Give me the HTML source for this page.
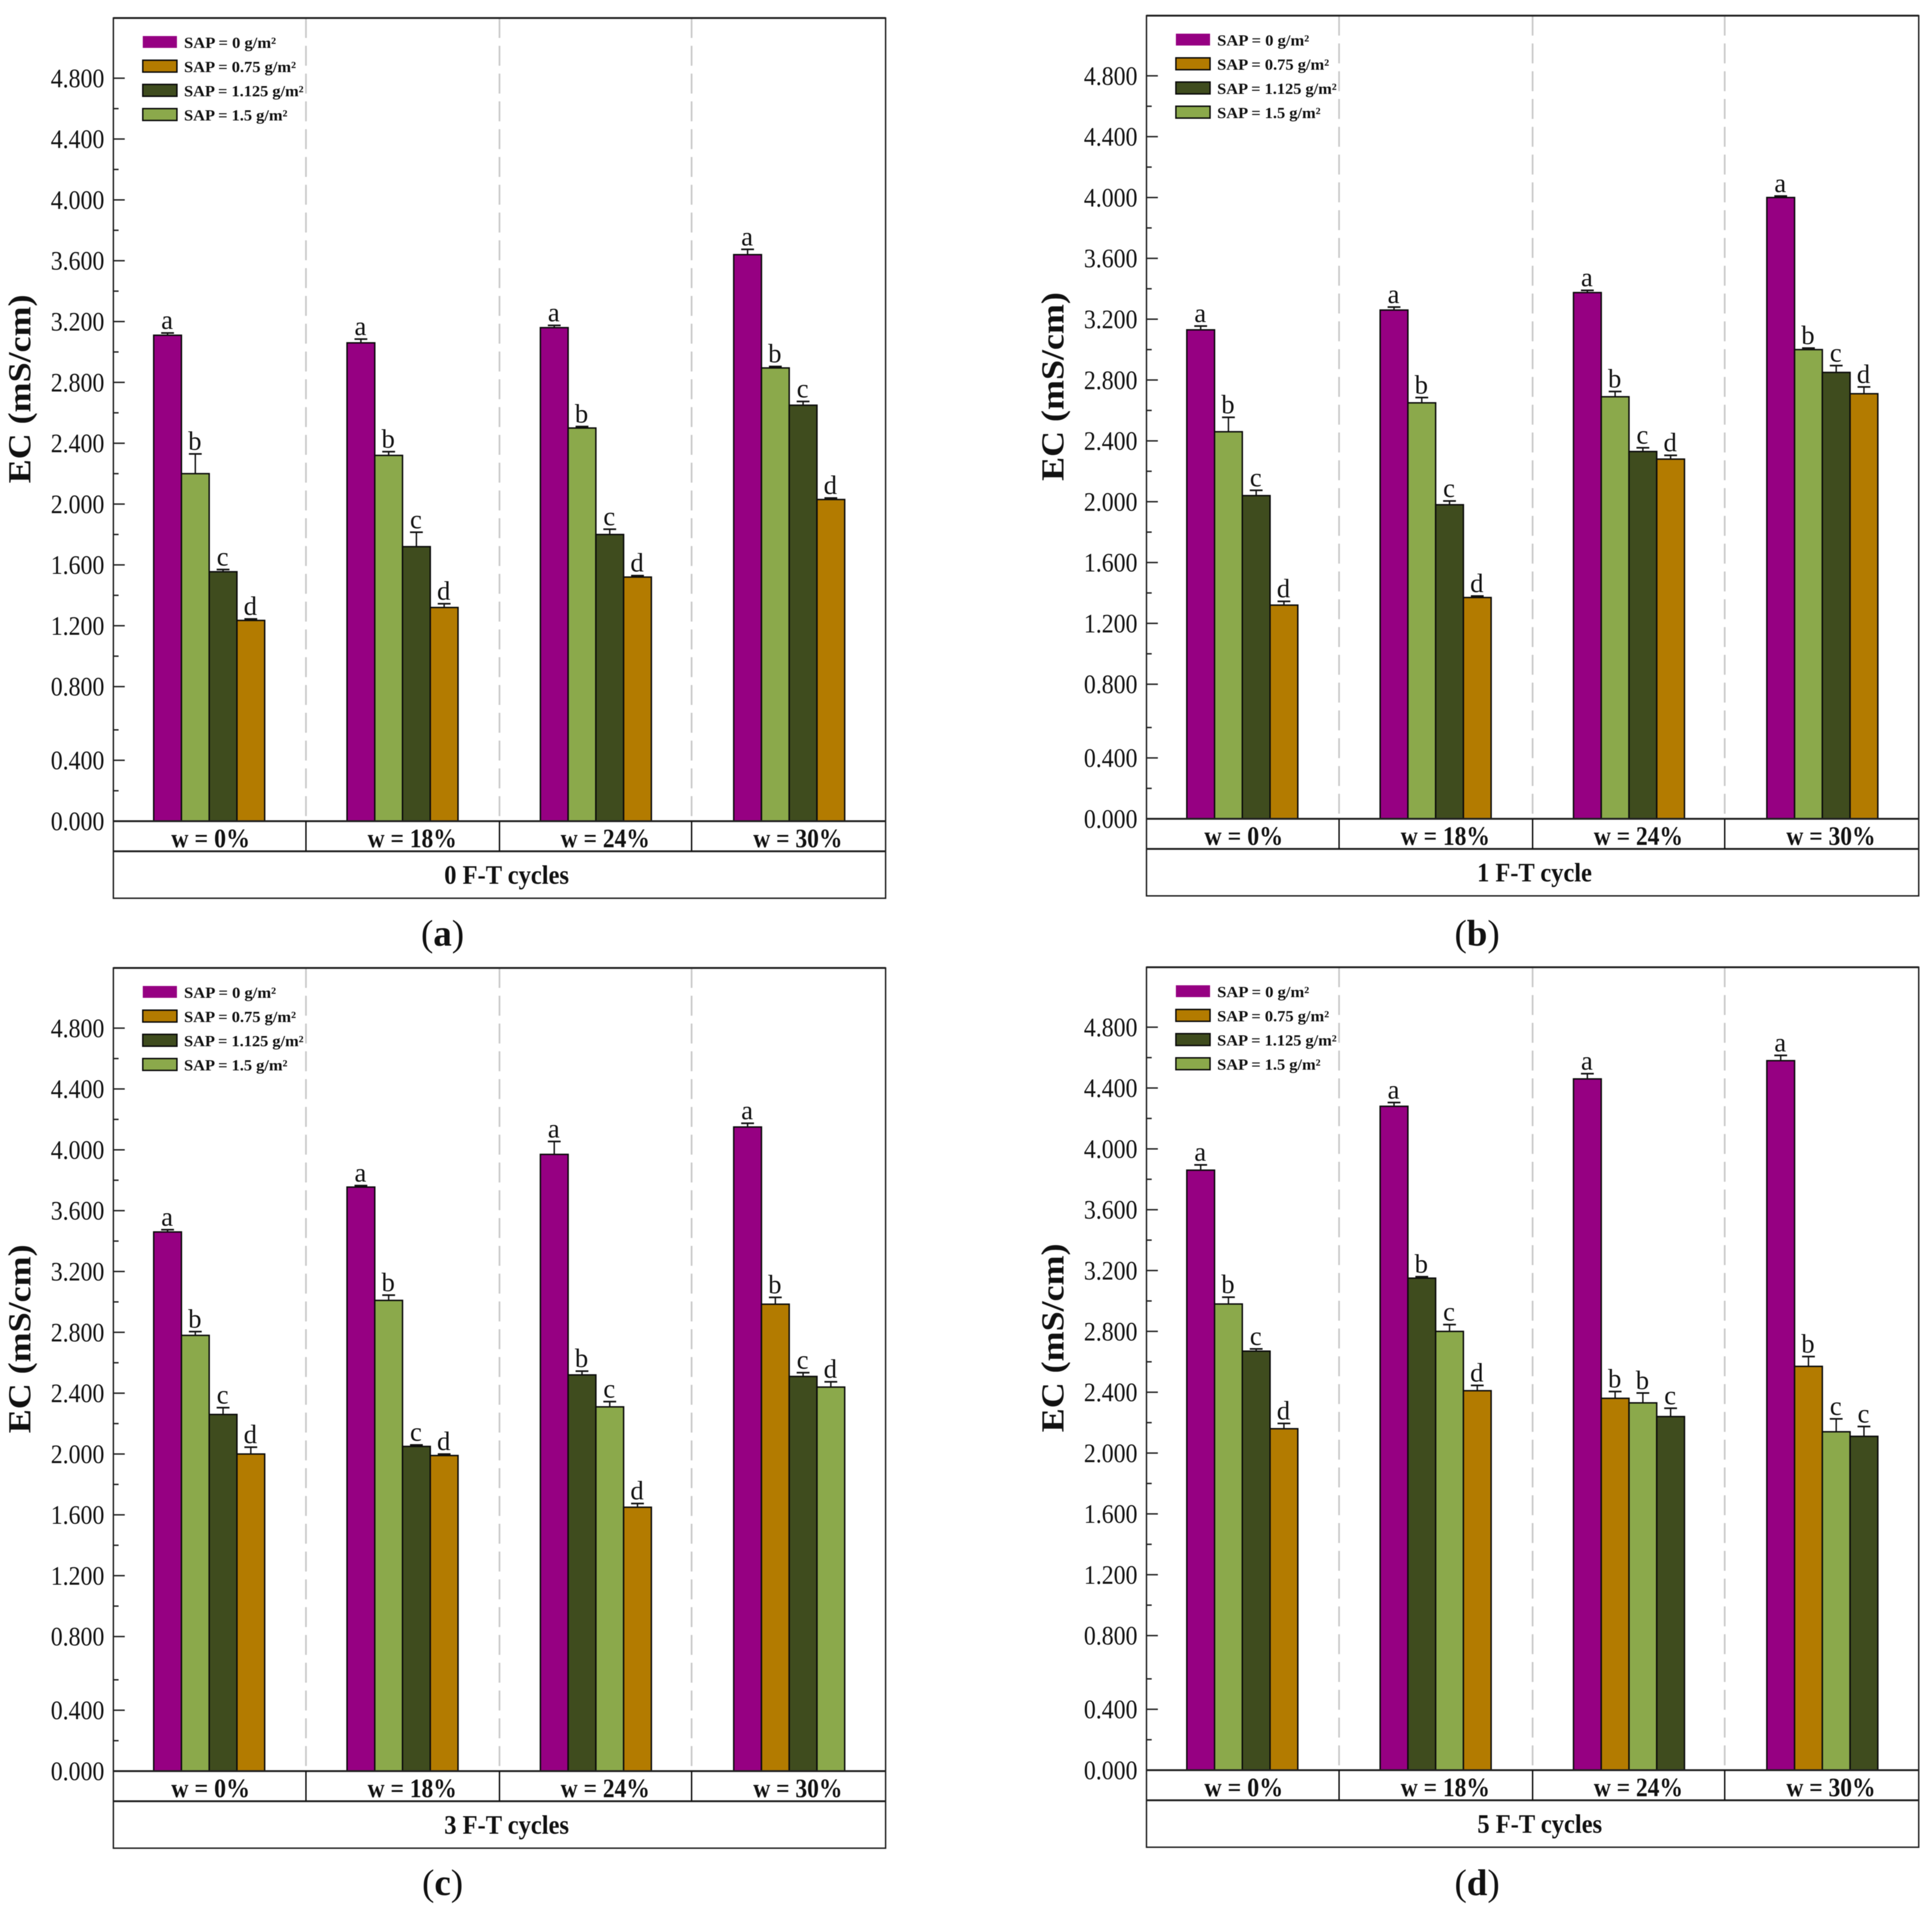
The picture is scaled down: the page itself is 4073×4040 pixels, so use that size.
<!DOCTYPE html>
<html lang="en">
<head>
<meta charset="utf-8">
<title>EC under F-T cycles</title>
<style>
html,body{margin:0;padding:0;background:#fff;}
svg{display:block;filter:blur(0.7px);}
text{font-family:"Liberation Serif","DejaVu Serif",serif;fill:#111;}
</style>
</head>
<body>
<svg id="chart" xmlns="http://www.w3.org/2000/svg" width="4073" height="4040" viewBox="0 0 4073 4040"></svg>
<script>
// ---- shared data ----
const categories = ['w = 0%', 'w = 18%', 'w = 24%', 'w = 30%'];
const seriesNames = ['SAP = 0 g/m²', 'SAP = 0.75 g/m²', 'SAP = 1.125 g/m²', 'SAP = 1.5 g/m²'];
const seriesColors = ['#960082', '#b37b00', '#3f4c1e', '#8ba94b'];
const majorTickLabels = ['0.000', '0.400', '0.800', '1.200', '1.600', '2.000', '2.400', '2.800', '3.200', '3.600', '4.000', '4.400', '4.800'];
const minorTickValues = [0.2, 0.6, 1.0, 1.4, 1.8, 2.2, 2.6, 3.0, 3.4, 3.8, 4.2, 4.6];

// Each row is one w category; bars run left to right in the picture.
// Series index: 0 = 0, 1 = 0.75, 2 = 1.125, 3 = 1.5 g/m²
const valuesA = [[3.11, 2.20, 1.555, 1.235], [3.06, 2.32, 1.72, 1.32], [3.16, 2.50, 1.80, 1.52], [3.64, 2.895, 2.65, 2.03]];
const errorsA = [[0.01, 0.125, 0.01, 0.005], [0.02, 0.02, 0.09, 0.02], [0.01, 0.005, 0.03, 0.005], [0.03, 0.005, 0.02, 0.005]];
const seriesA = [[0, 3, 2, 1], [0, 3, 2, 1], [0, 3, 2, 1], [0, 3, 2, 1]];
const lettersA = [['a', 'b', 'c', 'd'], ['a', 'b', 'c', 'd'], ['a', 'b', 'c', 'd'], ['a', 'b', 'c', 'd']];

const valuesB = [[3.13, 2.46, 2.04, 1.32], [3.26, 2.65, 1.98, 1.37], [3.375, 2.69, 2.33, 2.28], [4.00, 3.00, 2.85, 2.71]];
const errorsB = [[0.02, 0.09, 0.03, 0.02], [0.015, 0.03, 0.02, 0.005], [0.01, 0.03, 0.02, 0.02], [0.005, 0.005, 0.04, 0.04]];
const seriesB = [[0, 3, 2, 1], [0, 3, 2, 1], [0, 3, 2, 1], [0, 3, 2, 1]];
const lettersB = [['a', 'b', 'c', 'd'], ['a', 'b', 'c', 'd'], ['a', 'b', 'c', 'd'], ['a', 'b', 'c', 'd']];

const valuesC = [[3.46, 2.78, 2.26, 2.00], [3.755, 3.01, 2.05, 1.99], [3.97, 2.52, 2.31, 1.65], [4.15, 2.985, 2.51, 2.44]];
const errorsC = [[0.01, 0.02, 0.04, 0.04], [0.005, 0.03, 0.005, 0.005], [0.08, 0.02, 0.03, 0.02], [0.02, 0.04, 0.02, 0.03]];
const seriesC = [[0, 3, 2, 1], [0, 3, 2, 1], [0, 2, 3, 1], [0, 1, 2, 3]];
const lettersC = [['a', 'b', 'c', 'd'], ['a', 'b', 'c', 'd'], ['a', 'b', 'c', 'd'], ['a', 'b', 'c', 'd']];

const valuesD = [[3.86, 2.98, 2.67, 2.16], [4.28, 3.15, 2.80, 2.41], [4.46, 2.36, 2.33, 2.24], [4.58, 2.57, 2.14, 2.11]];
const errorsD = [[0.03, 0.04, 0.01, 0.03], [0.02, 0.005, 0.04, 0.03], [0.03, 0.04, 0.06, 0.05], [0.03, 0.06, 0.08, 0.06]];
const seriesD = [[0, 3, 2, 1], [0, 2, 3, 1], [0, 1, 3, 2], [0, 1, 3, 2]];
const lettersD = [['a', 'b', 'c', 'd'], ['a', 'b', 'c', 'd'], ['a', 'b', 'b', 'c'], ['a', 'b', 'c', 'c']];

// ---- axis functions (panel (a) geometry; panels are translated) ----
// The source y axis has a short stretch between 0.6 and 0.8.
function yScale(v) {
  if (v <= 0.6) return 1731.5 - (v / 0.6) * 192.5;
  if (v <= 0.8) return 1539 - ((v - 0.6) / 0.2) * 91.3;
  return 1447.7 - (v - 0.8) * 320.7;
}
function xScale(cat, pos) {
  return 324 + cat * 407.6 + pos * 58.5;
}
const BAR_W = 58.5;
const NS = 'http://www.w3.org/2000/svg';

function mk(parent, tag, attrs, txt) {
  const el = document.createElementNS(NS, tag);
  for (const k in attrs) el.setAttribute(k, attrs[k]);
  if (txt !== undefined) el.textContent = txt;
  parent.appendChild(el);
  return el;
}

function drawPanel(root, cfg) {
  const id = cfg.id;
  const g = mk(root, 'g', {transform: 'translate(' + cfg.dx + ',' + cfg.dy + ')'});
  
  

  const L = 239, R = 1867, T = cfg.top, B = 1894, Z = yScale(0), ROW = 1795;
  const dividers = [645, 1053, 1458];

  // dashed separators
  dividers.forEach(function (x, i) {
    const d = mk(g, 'line', {x1: x, x2: x, y1: T, y2: Z, stroke: '#c8c8c8', 'stroke-width': 3.5, 'stroke-dasharray': '42 16.6'});
    
    
  });

  // bars, error bars, letters
  cfg.values.forEach(function (row, c) {
    row.forEach(function (v, p) {
      const s = cfg.series[c][p];
      const x = xScale(c, p);
      const y = yScale(v);
      const bar = mk(g, 'rect', {x: x, y: y, width: BAR_W, height: Z - y, fill: seriesColors[s], stroke: '#0a0a0a', 'stroke-width': 3});
      
      

      const yTop = yScale(v + cfg.errors[c][p]);
      const cx = x + BAR_W / 2;
      const stem = mk(g, 'line', {x1: cx, x2: cx, y1: y, y2: yTop, stroke: '#111', 'stroke-width': 3});
      
      
      const cap = mk(g, 'line', {x1: cx - 13.5, x2: cx + 13.5, y1: yTop - 1.5, y2: yTop - 1.5, stroke: '#111', 'stroke-width': 3.5});
      
      

      const lab = mk(g, 'text', {x: cx - 1, y: yTop - 10, 'text-anchor': 'middle', 'font-size': 56}, cfg.letters[c][p]);
      
      
    });
  });

  // frame
  const frame = mk(g, 'rect', {x: L, y: T, width: R - L, height: B - T, fill: 'none', stroke: '#222', 'stroke-width': 3});
  
  
  const top = mk(g, 'line', {x1: L, x2: R, y1: T, y2: T, stroke: '#222', 'stroke-width': 4});
  
  
  const zero = mk(g, 'line', {x1: L, x2: R, y1: Z, y2: Z, stroke: '#222', 'stroke-width': 4});
  
  
  const row2 = mk(g, 'line', {x1: L, x2: R, y1: ROW, y2: ROW, stroke: '#222', 'stroke-width': 4});
  
  
  dividers.forEach(function (x, i) {
    const d = mk(g, 'line', {x1: x, x2: x, y1: Z, y2: ROW, stroke: '#111', 'stroke-width': 3});
    
    
  });

  // y ticks
  majorTickLabels.forEach(function (lbl) {
    const v = parseFloat(lbl);
    const y = yScale(v);
    if (v > 0) {
      const t = mk(g, 'line', {x1: L, x2: L + 24, y1: y, y2: y, stroke: '#222', 'stroke-width': 3});
      
      
    }
    const tx = mk(g, 'text', {x: 220, y: y + 19, 'text-anchor': 'end', 'font-size': 56, textLength: 113, lengthAdjust: 'spacingAndGlyphs'}, lbl);
    
    
  });
  minorTickValues.forEach(function (v) {
    const y = yScale(v);
    const t = mk(g, 'line', {x1: L, x2: L + 11, y1: y, y2: y, stroke: '#222', 'stroke-width': 3});
    
    
  });

  // y title
  const yt = mk(g, 'text', {transform: 'translate(64,820) rotate(-90)', 'text-anchor': 'middle', 'font-size': 68, 'font-weight': 'bold', textLength: 398, lengthAdjust: 'spacingAndGlyphs'}, 'EC (mS/cm)');
  
  

  // category labels
  const catCenters = [444, 869, 1276, 1682];
  const catWidths = [166, 188, 188, 188];
  categories.forEach(function (cat, i) {
    const t = mk(g, 'text', {x: catCenters[i], y: Z + 55, 'text-anchor': 'middle', 'font-size': 56, 'font-weight': 'bold', textLength: catWidths[i], lengthAdjust: 'spacingAndGlyphs'}, cat);
    
    
  });

  // sub-panel title
  const st = mk(g, 'text', {x: cfg.titleX, y: Z + 132, 'text-anchor': 'middle', 'font-size': 56, 'font-weight': 'bold', textLength: cfg.titleW, lengthAdjust: 'spacingAndGlyphs'}, cfg.title);
  
  

  // legend
  const legendTextW = [194, 236, 252, 218];
  seriesNames.forEach(function (name, i) {
    const y = T + 38 + i * 51;
    const sw = mk(g, 'rect', {x: 301, y: y, width: 72, height: 25, fill: seriesColors[i], stroke: i === 0 ? 'none' : '#0a0a0a', 'stroke-width': 3});
    
    
    const t = mk(g, 'text', {x: 388, y: y + 25, 'font-size': 33, 'font-weight': 'bold', textLength: legendTextW[i], lengthAdjust: 'spacingAndGlyphs'}, name);
    
    
  });

  // panel letter
  const pl = mk(root, 'text', {x: cfg.tagX, y: cfg.tagY, 'text-anchor': 'middle', 'font-size': 78});
  
  
  mk(pl, 'tspan', {}, '(');
  mk(pl, 'tspan', {'font-weight': 'bold'}, id);
  mk(pl, 'tspan', {}, ')');
}

const root = document.getElementById('chart');
drawPanel(root, {id: 'a', dx: 0, dy: 0, top: 38, values: valuesA, errors: errorsA, series: seriesA, letters: lettersA, title: '0 F-T cycles', titleX: 1068, titleW: 263, tagX: 933, tagY: 1994});
drawPanel(root, {id: 'b', dx: 2178, dy: -5, top: 38, values: valuesB, errors: errorsB, series: seriesB, letters: lettersB, title: '1 F-T cycle', titleX: 1057, titleW: 242, tagX: 3114, tagY: 1994});
drawPanel(root, {id: 'c', dx: 0, dy: 2003, top: 38, values: valuesC, errors: errorsC, series: seriesC, letters: lettersC, title: '3 F-T cycles', titleX: 1068, titleW: 263, tagX: 933, tagY: 3996});
drawPanel(root, {id: 'd', dx: 2178, dy: 2001, top: 38.5, values: valuesD, errors: errorsD, series: seriesD, letters: lettersD, title: '5 F-T cycles', titleX: 1068, titleW: 263, tagX: 3114, tagY: 3996});
</script>
</body>
</html>
